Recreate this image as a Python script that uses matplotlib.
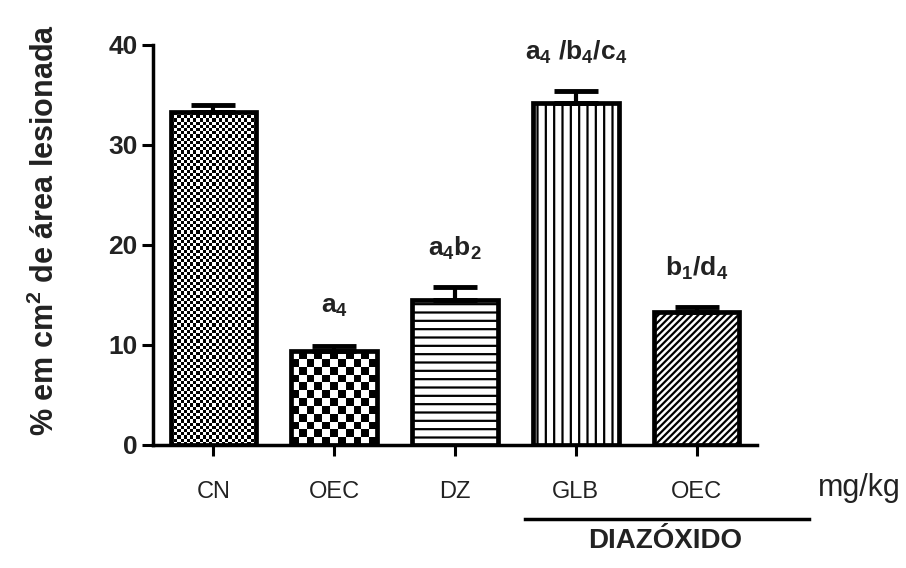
import numpy as np
import matplotlib
matplotlib.use('Agg')
import matplotlib.pyplot as plt
import matplotlib.transforms as mtransforms
from matplotlib.lines import Line2D

plt.rcParams['font.family'] = ['Liberation Sans', 'DejaVu Sans']
plt.rcParams['mathtext.fontset'] = 'custom'
plt.rcParams['mathtext.rm'] = 'Liberation Sans'
plt.rcParams['mathtext.bf'] = 'Liberation Sans:bold'
plt.rcParams['mathtext.it'] = 'Liberation Sans:italic'
plt.rcParams['hatch.linewidth'] = 1.6

# data
groups = ['CN', 'OEC', 'DZ', 'GLB', 'OEC']
means = [33.3, 9.4, 14.5, 34.2, 13.3]
errs = [0.7, 0.5, 1.3, 1.2, 0.5]
letters = ['', r'$\mathbf{a_4}$', r'$\mathbf{a_4b_2}$',
           r'$\mathbf{a_4\ /b_4/c_4}$', r'$\mathbf{b_1/d_4}$']
yticks = [0, 10, 20, 30, 40]

# fill of each bar: ('checker', cell px) or ('hatch', pattern)
fills = [('checker', 3.2), ('checker', 8.0), ('hatch', '--'),
         ('hatch', '||'), ('hatch', '/////')]

fig = plt.figure(figsize=(9.06, 5.68), dpi=100)
ax = fig.add_axes([153/906, 1 - 445/568, 604/906, 400/568])
ax.set_xlim(-0.5, 4.5)
ax.set_ylim(0, 40)

x = np.arange(len(groups))
width = 0.71

for i, (xi, m) in enumerate(zip(x, means)):
    kind, val = fills[i]
    if kind == 'hatch':
        ax.bar(xi, m, width, facecolor='white', edgecolor='black',
               linewidth=3.4, hatch=val, zorder=3)
    else:
        bar = ax.bar(xi, m, width, facecolor='white', edgecolor='none',
                     zorder=2)[0]
        p0 = ax.transData.transform((0, 0))
        p1 = ax.transData.transform((1, 1))
        nx = max(2, int(round(width * (p1[0] - p0[0]) / val)))
        ny = max(2, int(round(m * (p1[1] - p0[1]) / val)))
        ii, jj = np.indices((ny, nx))
        pattern = ((ii + jj) % 2).astype(float)
        im = ax.imshow(pattern, cmap='gray', vmin=0, vmax=1,
                       extent=(bar.get_x(), bar.get_x() + bar.get_width(),
                               0, bar.get_height()),
                       interpolation='nearest', aspect='auto', zorder=2.5,
                       origin='lower')
        im.set_clip_path(bar)
        ax.bar(xi, m, width, fill=False, edgecolor='black', linewidth=3.4,
               zorder=3)

ax.errorbar(x, means, yerr=[np.zeros(len(errs)), errs], fmt='none',
            ecolor='black', elinewidth=3, capsize=16, capthick=3.5, zorder=4)

for xi, m, e, lab in zip(x, means, errs, letters):
    if lab:
        ax.text(xi, m + e + 3.9, lab, ha='center', va='center',
                fontsize=19, color='#222222')

ax.set_xlim(-0.5, 4.5)
ax.set_ylim(0, 40)
ax.set_xticks(x)
ax.set_xticklabels(groups, fontsize=17, color='#222222')
ax.set_yticks(yticks)
ax.set_yticklabels([str(t) for t in yticks], fontsize=19,
                   fontweight='bold', color='#222222')
ax.tick_params(axis='both', direction='out', length=8, width=2.2)
ax.tick_params(axis='x', pad=18)
ax.tick_params(axis='y', pad=3)
for s in ['top', 'right']:
    ax.spines[s].set_visible(False)
for s in ['left', 'bottom']:
    ax.spines[s].set_linewidth(2.5)

fig.text(45/906, 1 - 230/568, r'% em cm$^\mathbf{2}$ de área lesionada',
         rotation=90, ha='center', va='center', fontsize=22,
         fontweight='bold', color='#222222')

# group line for diazoxide pretreatment
trans = mtransforms.blended_transform_factory(ax.transData, ax.transAxes)
ax.add_line(Line2D([2.58, 4.93], [-0.185, -0.185], transform=trans,
                   color='black', linewidth=2.5, clip_on=False))
ax.text(3.74, -0.24, 'DIAZÓXIDO', transform=trans, ha='center',
        va='center', fontsize=20, fontweight='bold', color='#222222')
ax.text(5.35, -0.108, 'mg/kg', transform=trans, ha='center', va='center',
        fontsize=22, color='#222222')

fig.savefig('out.png', dpi=100)
